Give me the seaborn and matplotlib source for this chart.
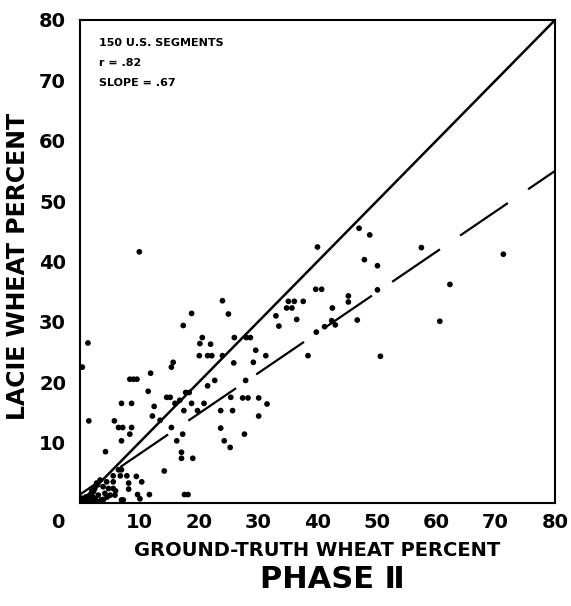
import matplotlib
matplotlib.use("Agg")
import matplotlib.pyplot as plt
import seaborn as sns
import pandas as pd

# ground-truth wheat percent vs LACIE estimate, 150 U.S. segments
ground_truth = [
    10.0, 40.0, 47.0, 48.8, 47.9, 50.1, 57.5, 71.3, 62.3, 60.6,
    50.6, 50.1, 45.2, 45.2, 42.5, 42.4, 46.7, 41.2, 39.8, 39.7,
    40.7, 38.4, 35.1, 36.1, 37.6, 34.8, 35.7, 36.5, 33.5, 24.0,
    25.0, 18.8, 17.4, 20.6, 20.2, 22.0, 20.1, 21.5, 22.2, 24.0,
    26.0, 28.0, 28.7, 29.6, 31.3, 25.9, 29.2, 22.7, 21.5, 27.9,
    15.7, 15.4, 11.9, 8.4, 9.0, 9.6, 11.5, 7.0, 8.7, 12.2,
    14.6, 15.2, 16.0, 17.8, 18.4, 17.5, 18.8, 19.8, 20.9, 23.7,
    25.7, 25.4, 27.4, 28.3, 30.1, 31.5, 30.1, 23.7, 27.7, 24.3,
    25.3, 15.4, 16.3, 17.3, 17.1, 17.1, 19.0, 1.35, 0.4, 1.5,
    5.8, 6.5, 7.2, 8.7, 8.4, 7.0, 4.3, 13.5, 14.2, 17.6,
    18.2, 6.5, 7.0, 5.6, 6.8, 7.9, 9.5, 10.4, 8.2, 8.2,
    9.7, 10.1, 11.7, 7.0, 3.4, 4.5, 3.9, 2.5, 4.8, 5.6,
    3.1, 4.2, 5.1, 5.9, 2.2, 1.7, 1.1, 0.8, 7.3, 5.6,
    2.3, 2.8, 1.0, 2.0, 3.0, 0.5, 1.5, 2.6, 3.6, 4.6,
    6.0, 0.3, 1.2, 2.0, 3.2, 4.0, 12.5, 16.8, 33.0, 43.0,
]
lacie = [
    41.6, 42.4, 45.5, 44.4, 40.3, 39.3, 42.3, 41.2, 36.2, 30.1,
    24.3, 35.3, 34.3, 33.3, 32.3, 30.2, 30.3, 29.2, 28.3, 35.4,
    35.4, 24.4, 33.4, 33.4, 33.4, 32.3, 32.3, 30.4, 29.3, 33.5,
    31.3, 31.4, 29.4, 27.4, 26.4, 26.3, 24.4, 24.4, 24.4, 24.4,
    27.4, 27.4, 27.4, 25.3, 24.4, 23.2, 23.3, 20.3, 19.4, 20.3,
    23.3, 22.5, 21.5, 20.5, 20.5, 20.5, 18.5, 16.5, 16.5, 14.4,
    17.5, 17.5, 16.5, 18.3, 18.3, 15.3, 16.5, 15.3, 16.5, 15.3,
    15.3, 17.5, 17.4, 17.4, 17.4, 16.4, 14.4, 12.4, 11.4, 10.3,
    9.2, 12.5, 10.3, 11.4, 8.4, 7.4, 7.4, 26.5, 22.5, 13.6,
    13.6, 12.5, 12.5, 12.5, 11.4, 10.3, 8.5, 13.7, 5.3, 1.4,
    1.4, 5.5, 5.5, 4.5, 4.5, 4.5, 4.4, 3.5, 3.3, 2.3,
    1.4, 0.7, 1.4, 0.5, 3.8, 3.5, 2.7, 2.4, 2.4, 2.4,
    1.3, 1.6, 1.3, 1.3, 1.0, 1.3, 0.8, 0.3, 0.5, 3.5,
    1.9, 3.3, 1.0, 2.0, 3.0, 0.2, 0.4, 0.6, 0.5, 1.0,
    2.0, 0.8, 0.2, 0.3, 0.2, 0.6, 16.0, 17.0, 31.0, 29.5,
]
identity_x = [0, 80]
fit_x = [0, 80]
slope = 0.67
intercept = 1.4
fit_y = [slope * v + intercept for v in fit_x]
x_ticks = [10, 20, 30, 40, 50, 60, 70, 80]
y_ticks = [10, 20, 30, 40, 50, 60, 70, 80]
notes = ["150 U.S. SEGMENTS", "r = .82", "SLOPE = .67"]

sns.set_theme(style="white")
plt.rcParams['font.family'] = ['DejaVu Sans']
plt.rcParams['font.weight'] = 'bold'
plt.rcParams['text.color'] = 'black'

df = pd.DataFrame({"gt": ground_truth, "lacie": lacie})

fig = plt.figure(figsize=(5.71, 6.06), dpi=100)
ax = fig.add_axes([0.140, 0.170, 0.832, 0.797])

sns.scatterplot(data=df, x="gt", y="lacie", color="black", s=17,
                edgecolor="none", ax=ax, zorder=3)
sns.lineplot(x=identity_x, y=identity_x, color="black", lw=1.8, ax=ax)
# long-dash regression line
sns.lineplot(x=fit_x, y=fit_y, color="black", lw=1.6, ax=ax,
             linestyle=(15.0, (26.0, 11.0)))

ax.set_xlim(0, 80)
ax.set_ylim(0, 80)
ax.set_xticks(x_ticks)
ax.set_yticks(y_ticks)
ax.tick_params(axis="both", direction="in", length=3, width=1.2,
               labelsize=14, colors="black")
ax.tick_params(axis="y", pad=10)
ax.tick_params(axis="x", pad=7)
for sp in ax.spines.values():
    sp.set_visible(True)
    sp.set_color("black")
    sp.set_linewidth(1.5)

ax.set_xlabel("GROUND-TRUTH WHEAT PERCENT", fontsize=14, fontweight="bold",
              color="black")
ax.xaxis.set_label_coords(0.5, -0.078)
ax.set_ylabel("LACIE WHEAT PERCENT", fontsize=17, fontweight="bold",
              color="black")
ax.yaxis.set_label_coords(-0.105, 0.489)

fig.text(58 / 571, 1 - 523 / 606, "0", ha="center", va="center",
         fontsize=14, fontweight="bold")

for i, t in enumerate(notes):
    ax.text(0.04, 0.952 - i * 0.041, t, transform=ax.transAxes,
            fontsize=8, fontweight="bold", va="center", ha="left")

fig.text(332 / 571, 1 - 580 / 606, "PHASE \u2161", ha="center", va="center",
         fontsize=22, fontweight="bold",
         family=["DejaVu Sans", "Noto Sans"])

fig.savefig("out.png", dpi=100)
